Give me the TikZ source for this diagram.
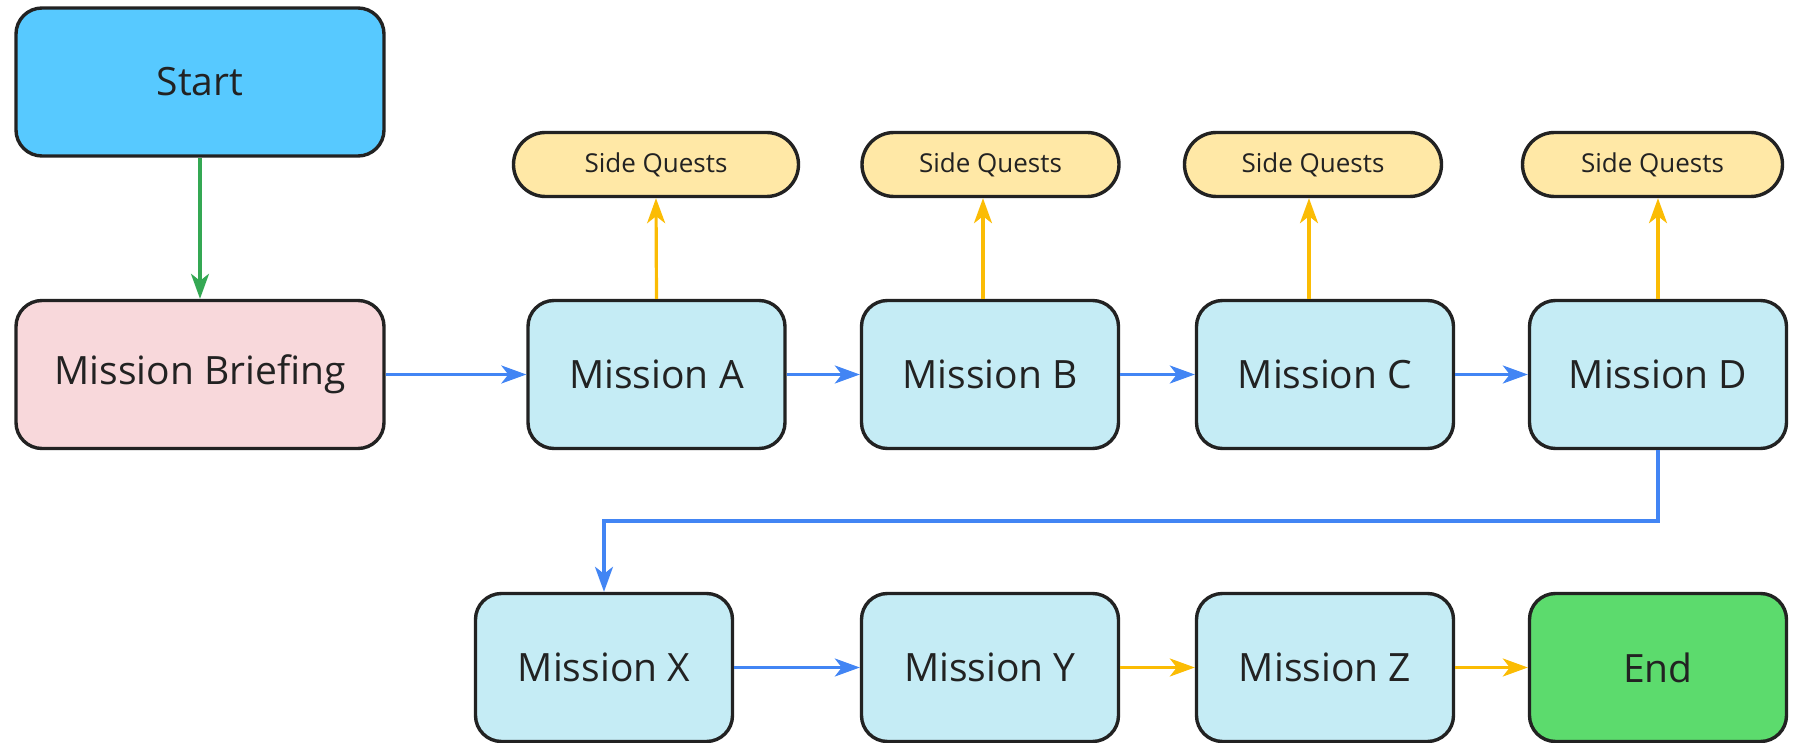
\documentclass[tikz,border=0pt]{standalone}
\usepackage{fontspec}
\setmainfont{Open Sans}
\usetikzlibrary{arrows.meta,calc}
\definecolor{strokec}{HTML}{222222}
\definecolor{startc}{HTML}{57C9FF}
\definecolor{briefc}{HTML}{F8D8DB}
\definecolor{missc}{HTML}{C5ECF5}
\definecolor{sidec}{HTML}{FFE8A6}
\definecolor{endc}{HTML}{5CDB6D}
\definecolor{greenc}{HTML}{34A853}
\definecolor{bluec}{HTML}{4285F4}
\definecolor{yellowc}{HTML}{FBBC04}
\tikzset{
  box/.style={draw=strokec, line width=1.7pt, rounded corners=13pt,
    minimum width=128.5pt, minimum height=74pt, inner sep=0pt,
    text=strokec, font=\fontsize{19.5}{24}\selectfont},
  sidebox/.style={draw=strokec, line width=1.7pt, fill=sidec, rounded corners=16pt,
    minimum width=128.5pt, minimum height=32pt, inner sep=0pt,
    text=strokec, font=\fontsize{13}{15}\selectfont},
  conn/.style={line width=1.6pt, -{Stealth[length=12.5pt,width=9pt,inset=3.5pt]}},
}
\begin{document}
\begin{tikzpicture}[x=0.5pt,y=-0.5pt]
\useasboundingbox (0,0) rectangle (1801,743);
% main row
\node[box, fill=startc, minimum width=184pt] (start) at (200,82) {Start};
\node[box, fill=briefc, minimum width=184pt] (brief) at (200,374.5) {Mission Briefing};
\node[box, fill=missc] (mA) at (656.5,374.5) {Mission A};
\node[box, fill=missc] (mB) at (990,374.5) {Mission B};
\node[box, fill=missc] (mC) at (1325,374.5) {Mission C};
\node[box, fill=missc] (mD) at (1658,374.5) {Mission D};
% bottom row
\node[box, fill=missc] (mX) at (604,667.5) {Mission X};
\node[box, fill=missc] (mY) at (990,667.5) {Mission Y};
\node[box, fill=missc] (mZ) at (1325,667.5) {Mission Z};
\node[box, fill=endc] (end) at (1658,667.5) {End};
% side quests
\node[sidebox, minimum width=142.5pt] (sA) at (656,164.5) {Side Quests};
\node[sidebox] (sB) at (990.5,164.5) {Side Quests};
\node[sidebox] (sC) at (1313,164.5) {Side Quests};
\node[sidebox, minimum width=130pt] (sD) at (1652.5,164.5) {Side Quests};
% connectors
\draw[conn, greenc] (start) -- (brief);
\draw[conn, bluec] (brief) -- (mA);
\draw[conn, bluec] (mA) -- (mB);
\draw[conn, bluec] (mB) -- (mC);
\draw[conn, bluec] (mC) -- (mD);
\coordinate (mid) at ($(mD.south)!0.5!(mX.north)$);
\draw[conn, bluec] (mD.south) |- (mid) -| (mX.north);
\draw[conn, bluec] (mX) -- (mY);
\draw[conn, yellowc] (mY) -- (mZ);
\draw[conn, yellowc] (mZ) -- (end);
\draw[conn, yellowc] (mA.north) -- (sA.south);
\draw[conn, yellowc] ([xshift=-3.5pt]mB.north) -- ([xshift=-3.5pt]mB.north |- sB.south);
\draw[conn, yellowc] ([xshift=-8pt]mC.north) -- ([xshift=-8pt]mC.north |- sC.south);
\draw[conn, yellowc] (mD.north) -- (mD.north |- sD.south);
\end{tikzpicture}
\end{document}
